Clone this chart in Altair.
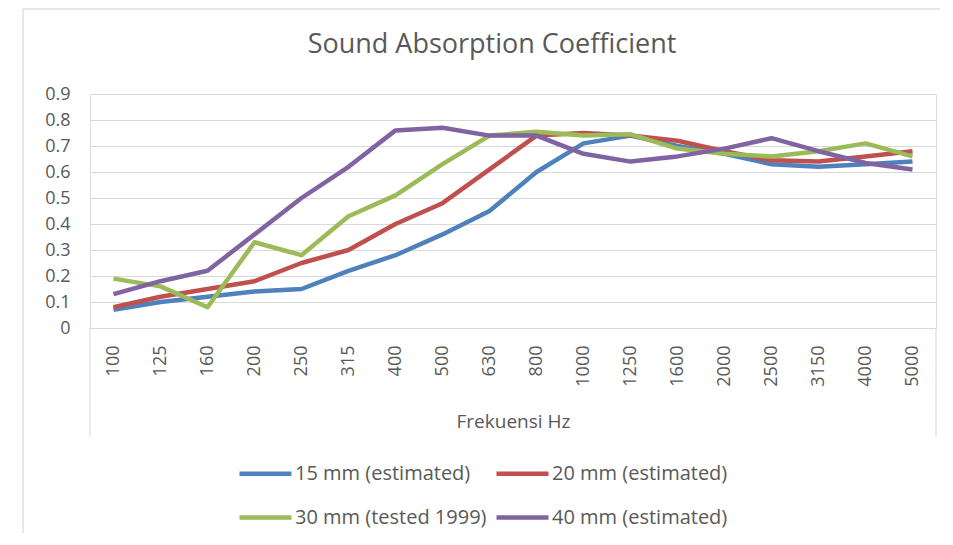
import altair as alt
import pandas as pd

freqs = ["100", "125", "160", "200", "250", "315", "400", "500", "630", "800",
         "1000", "1250", "1600", "2000", "2500", "3150", "4000", "5000"]
series_names = ["15 mm (estimated)", "20 mm (estimated)", "30 mm (tested 1999)", "40 mm (estimated)"]
series_colors = ["#4F81BD", "#C0504D", "#9BBB59", "#8064A2"]
# legend fills column by column: order so that rows read 15/20 and 30/40
legend_order = [0, 2, 1, 3]

s15 = [0.07, 0.10, 0.12, 0.14, 0.15, 0.22, 0.28, 0.36, 0.45, 0.60, 0.71, 0.74, 0.70, 0.67, 0.63, 0.62, 0.63, 0.64]
s20 = [0.08, 0.12, 0.15, 0.18, 0.25, 0.30, 0.40, 0.48, 0.61, 0.74, 0.75, 0.74, 0.72, 0.68, 0.645, 0.64, 0.66, 0.68]
s30 = [0.19, 0.16, 0.08, 0.33, 0.28, 0.43, 0.51, 0.63, 0.74, 0.755, 0.74, 0.745, 0.69, 0.67, 0.66, 0.68, 0.71, 0.66]
s40 = [0.13, 0.18, 0.22, 0.36, 0.50, 0.62, 0.76, 0.77, 0.74, 0.74, 0.67, 0.64, 0.66, 0.69, 0.73, 0.68, 0.635, 0.61]
y_ticks = [0, 0.1, 0.2, 0.3, 0.4, 0.5, 0.6, 0.7, 0.8, 0.9]
chart_title = "Sound Absorption Coefficient"

rows = []
for name, vals in zip(series_names, [s15, s20, s30, s40]):
    for f, v in zip(freqs, vals):
        rows.append({"series": name, "freq": f, "value": v})
df = pd.DataFrame(rows)

dom = [series_names[i] for i in legend_order]
rng = [series_colors[i] for i in legend_order]

FONT = "Open Sans"
GREY = "#595959"
W, H = 846, 234

lines = alt.Chart(df).mark_line(strokeWidth=4.5, strokeJoin="round").encode(
    x=alt.X("freq:N", sort=freqs, scale=alt.Scale(type="point", padding=0.5),
            axis=alt.Axis(title="Frekuensi Hz", labelAngle=-90, labelPadding=17, ticks=False, tickSize=0,
                          domainColor="#d9d9d9", labelColor=GREY, labelFontSize=18, labelFont=FONT,
                          titleFont=FONT, titleFontSize=19, titleColor=GREY, titleFontWeight="normal",
                          titlePadding=26, grid=False)),
    y=alt.Y("value:Q", scale=alt.Scale(domain=[0, 0.9], nice=False),
            axis=alt.Axis(title=None, values=y_ticks, format=".1~f", domain=False, ticks=False, tickSize=0,
                          gridColor="#d9d9d9", labelColor=GREY, labelFontSize=18, labelFont=FONT,
                          labelPadding=20)),
    color=alt.Color("series:N",
                    scale=alt.Scale(domain=dom, range=rng),
                    legend=alt.Legend(title=None, orient="none", legendX=147, legendY=351, columns=2,
                                      symbolType="stroke", symbolSize=2704, symbolStrokeWidth=4.5,
                                      labelFontSize=20, labelFont=FONT, labelColor=GREY, labelLimit=0,
                                      columnPadding=0, rowPadding=5, labelOffset=1, padding=0)),
)

one = pd.DataFrame({"k": [0]})
frame_left = alt.Chart(one).mark_rule(color="#d0d0d0", strokeWidth=1).encode(
    x=alt.value(-67), y=alt.value(-85), y2=alt.value(460))
frame_top = alt.Chart(one).mark_rule(color="#d0d0d0", strokeWidth=1).encode(
    x=alt.value(-67), x2=alt.value(W + 4), y=alt.value(-85))
box_left = alt.Chart(one).mark_rule(color="#d9d9d9", strokeWidth=1).encode(
    x=alt.value(0), y=alt.value(H), y2=alt.value(H + 109))
box_right = alt.Chart(one).mark_rule(color="#d9d9d9", strokeWidth=1).encode(
    x=alt.value(W), y=alt.value(H), y2=alt.value(H + 109))
title_text = alt.Chart(one).mark_text(font=FONT, fontSize=27, color=GREY, align="center",
                                      baseline="middle").encode(
    x=alt.value(402), y=alt.value(-49), text=alt.value(chart_title))

chart = alt.layer(frame_left, frame_top, box_left, box_right, title_text, lines).properties(
    width=W, height=H,
    autosize="none",
    padding={"left": 82, "top": 86, "right": 5, "bottom": 205},
).configure_view(stroke=None).configure(background="white")

chart.save("out.html", embed_options={"renderer": "svg", "actions": False})
